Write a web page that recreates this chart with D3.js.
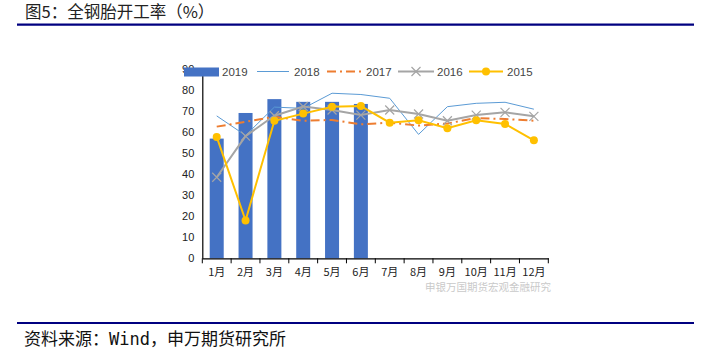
<!DOCTYPE html>
<html><head><meta charset="utf-8">
<script src="https://cdn.jsdelivr.net/npm/d3@7"></script>
<style>body{margin:0;background:#fff;}svg{display:block;}</style>
</head><body>
<svg id="c" width="709" height="352"></svg>
<script>
const months = ["1月","2月","3月","4月","5月","6月","7月","8月","9月","10月","11月","12月"];
const yTicks = [0,10,20,30,40,50,60,70,80,90];
const s2019 = [57,69.2,75.8,74.5,74.5,73.5];
const s2018 = [67.8,58.5,72,71.4,78.6,78,76.2,59,72.2,73.8,74.3,71];
const s2017 = [62.7,65,67.4,65.5,65.9,63.8,64.6,63.2,64.2,66.8,66.3,65.5];
const s2016 = [38.6,58.2,67.9,72.3,70.6,68.2,70.6,68.7,65.5,68.2,69.5,67.6];
const s2015 = [57.8,18,65.5,68.9,72.2,72.5,64.6,65.7,61.9,65.7,64,56.2];
const legendNames = ["2019","2018","2017","2016","2015"];

const svg = d3.select("#c");
const font = "'Noto Sans CJK SC','DejaVu Sans',sans-serif";

// title
svg.append("text").attr("x",25).attr("y",17.5).attr("font-family",font).attr("font-size",16.5).attr("fill","#222").text("图5：全钢胎开工率（%）");
svg.append("line").attr("x1",17).attr("x2",694).attr("y1",24.7).attr("y2",24.7).attr("stroke","#000080").attr("stroke-width",2.2);
svg.append("line").attr("x1",17).attr("x2",694).attr("y1",323).attr("y2",323).attr("stroke","#000080").attr("stroke-width",2.2);
svg.append("text").attr("x",24).attr("y",345).attr("font-family","'DejaVu Sans Mono','Noto Sans CJK SC',monospace").attr("font-size",17).attr("fill","#111").text("资料来源：Wind，申万期货研究所");

const x0 = 202.3, x1 = 548.3, yb = 258.3, yt = 69.3;
const x = d3.scaleBand().domain(months).range([x0,x1]).paddingInner(0.52).paddingOuter(0.26);
const xp = d3.scalePoint().domain(months).range([x0,x1]).padding(0.5);
const y = d3.scaleLinear().domain([0,90]).range([yb,yt]);

const g = svg.append("g");
// bars
g.selectAll("rect.bar").data(s2019).enter().append("rect")
  .attr("x",(d,i)=>xp(months[i])-7).attr("width",14)
  .attr("y",d=>y(d)).attr("height",d=>yb-y(d)).attr("fill","#4472C4");

// axes
const ya = g.append("g").attr("transform",`translate(${x0},0)`)
  .call(d3.axisLeft(y).tickValues(yTicks).tickSize(0).tickPadding(8));
ya.select(".domain").attr("stroke","#000").attr("stroke-width",1.2);
ya.selectAll("text").attr("font-family","'Liberation Sans',Arial,sans-serif").attr("font-size",11).attr("fill","#222");

const xa = g.append("g").attr("transform",`translate(0,${yb})`)
  .call(d3.axisBottom(x).tickSize(0).tickPadding(10).tickSizeOuter(0));
xa.select(".domain").attr("stroke","#000").attr("stroke-width",1.2);
xa.selectAll("text").attr("font-family",font).attr("font-size",11).attr("fill","#222");
// tick marks between categories
const step = (x1-x0)/12;
g.selectAll("line.tk").data(d3.range(13)).enter().append("line")
  .attr("x1",i=>x0+i*step).attr("x2",i=>x0+i*step).attr("y1",yb).attr("y2",yb+5)
  .attr("stroke","#000").attr("stroke-width",1);

const line = d3.line().x((d,i)=>xp(months[i])).y(d=>y(d));
g.append("path").datum(s2018).attr("d",line).attr("fill","none").attr("stroke","#5B9BD5").attr("stroke-width",1);
g.append("path").datum(s2017).attr("d",line).attr("fill","none").attr("stroke","#ED7D31").attr("stroke-width",2).attr("stroke-dasharray","9,4,2,4");
g.append("path").datum(s2016).attr("d",line).attr("fill","none").attr("stroke","#A5A5A5").attr("stroke-width",2);
g.selectAll("path.xm").data(s2016).enter().append("path")
  .attr("d",(d,i)=>{const cx=xp(months[i]),cy=y(d),r=4.5;return `M${cx-r},${cy-r}L${cx+r},${cy+r}M${cx-r},${cy+r}L${cx+r},${cy-r}`;})
  .attr("stroke","#A5A5A5").attr("stroke-width",1.2).attr("fill","none");
g.append("path").datum(s2015).attr("d",line).attr("fill","none").attr("stroke","#FFC000").attr("stroke-width",2);
g.selectAll("circle.p15").data(s2015).enter().append("circle")
  .attr("cx",(d,i)=>xp(months[i])).attr("cy",d=>y(d)).attr("r",4).attr("fill","#FFC000");

// legend
const lf = "'Liberation Sans',Arial,sans-serif";
const ly = 71.5;
const leg = svg.append("g");
leg.append("rect").attr("x",184).attr("y",67.5).attr("width",35).attr("height",9).attr("fill","#4472C4");
leg.append("line").attr("x1",257).attr("x2",289).attr("y1",ly).attr("y2",ly).attr("stroke","#5B9BD5").attr("stroke-width",1);
leg.append("line").attr("x1",327).attr("x2",361).attr("y1",ly).attr("y2",ly).attr("stroke","#ED7D31").attr("stroke-width",2).attr("stroke-dasharray","9,4,2,4");
leg.append("line").attr("x1",398).attr("x2",434).attr("y1",ly).attr("y2",ly).attr("stroke","#A5A5A5").attr("stroke-width",2);
leg.append("path").attr("d",`M${416-4.5},${ly-4.5}L${416+4.5},${ly+4.5}M${416-4.5},${ly+4.5}L${416+4.5},${ly-4.5}`).attr("stroke","#A5A5A5").attr("stroke-width",1.2);
leg.append("line").attr("x1",469).attr("x2",503).attr("y1",ly).attr("y2",ly).attr("stroke","#FFC000").attr("stroke-width",2);
leg.append("circle").attr("cx",486).attr("cy",ly).attr("r",4).attr("fill","#FFC000");
const lx = [222,294,366,437,507];
leg.selectAll("text.lt").data(legendNames).enter().append("text")
  .attr("x",(d,i)=>lx[i]).attr("y",ly+4.5).attr("font-family",lf).attr("font-size",11.5).attr("fill","#444").text(d=>d);

// watermark (placed just below the axis labels to keep labels readable)
svg.append("text").attr("x",425).attr("y",291).attr("font-family",font).attr("font-size",10.5)
  .attr("fill","#888").attr("opacity",0.45).text("申银万国期货宏观金融研究");
</script>
</body></html>
